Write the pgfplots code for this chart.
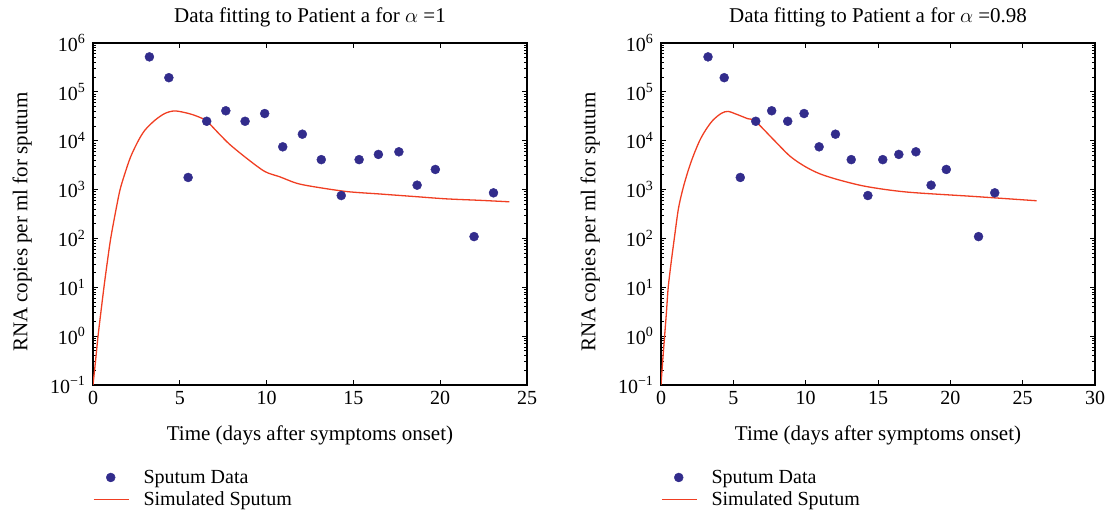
\documentclass[border=0pt]{standalone}
\usepackage{fontspec}
\setmainfont{Liberation Serif}
\usepackage{pgfplots}
\pgfplotsset{compat=1.18}
\definecolor{dotc}{RGB}{50,44,140}
\definecolor{linec}{RGB}{240,62,34}

\pgfplotsset{
  dotlegend/.style={legend image code/.code={\path (0pt,0pt) (35pt,0pt);
      \draw[mark repeat=2, mark phase=2, ##1] plot coordinates {(0pt,0pt) (17pt,0pt) (34pt,0pt)};}},
  linelegend/.style={legend image code/.code={\path (0pt,-4pt) (35pt,4pt); \draw[##1] (0pt,0pt) -- (35pt,0pt);}},
}

\pgfplotstableread{
x y
3.25 520000
4.37 195000
5.48 1770
6.55 25000
7.65 41000
8.76 25000
9.89 36000
10.93 7500
12.06 13600
13.15 4100
14.30 755
15.33 4100
16.44 5240
17.62 5930
18.67 1230
19.72 2580
21.95 109
23.07 857
}\sputum

\pgfplotstableread{
x y
0 0.1
0.15 0.32
0.29 1
0.45 3
0.63 10
0.82 32
1.02 100
1.30 350
1.56 1000
1.85 2200
2.17 4700
2.61 10000
3.00 16600
3.57 26300
4.15 36300
4.72 40700
5.48 36300
6.00 31600
6.55 25100
7.32 13200
7.89 8320
8.85 4370
9.90 2340
10.77 1820
11.72 1350
12.68 1150
14.60 912
16.50 813
18.43 724
20.34 646
22.26 603
23.98 562
}\simA

\pgfplotstableread{
x y
0 0.1
0.12 0.32
0.25 1
0.38 3.2
0.50 10
0.70 32
0.92 100
1.20 400
1.50 1000
1.85 2300
2.21 4700
2.67 10000
3.09 16600
3.59 26300
4.17 36300
4.63 39800
5.23 34700
6.00 28200
6.52 25100
7.78 10500
8.93 4790
9.97 2950
11.00 2090
12.39 1550
14.23 1150
16.99 890
21.60 724
25.97 590
}\simB

\begin{document}
\begin{tikzpicture}
\path[use as bounding box] (0pt,0pt) rectangle (1112pt,514pt);
\begin{axis}[at={(93pt,129pt)}, anchor=south west,
    scale only axis, width=434pt, height=342pt,
    ymode=log, ymin=0.1, ymax=1000000, xmin=0, xmax=25,
    xtick={0,5,10,15,20,25},
    axis line style={line width=1.3pt, black},
    every tick/.style={black, line width=0.8pt},
    major tick length=5pt, minor tick length=3pt,
    ytick={0.1,1,10,100,1000,10000,100000,1000000},
    yticklabels={10\textsuperscript{−1},10\textsuperscript{0},10\textsuperscript{1},10\textsuperscript{2},10\textsuperscript{3},10\textsuperscript{4},10\textsuperscript{5},10\textsuperscript{6}},
    tick label style={font=\fontsize{20}{22}\selectfont},
    xticklabel style={yshift=-3pt},
    yticklabel style={xshift=-4pt},
    label style={font=\fontsize{21}{24}\selectfont},
    title style={font=\fontsize{21}{24}\selectfont, at={(axis description cs:0.5,1.058)}, anchor=center},
    xlabel style={at={(axis description cs:0.5,-0.146)}, anchor=center},
    ylabel style={at={(axis description cs:-0.163,0.476)}, anchor=center},
    xlabel={Time (days after symptoms onset)},
    ylabel={RNA copies per ml for sputum},
    title={Data fitting to Patient a for $\alpha$ =1},
    legend style={at={(axis description cs:0,-0.243)}, anchor=north west,
      draw=none, fill=none, inner sep=0pt, outer sep=0pt,
      font=\fontsize{20}{22}\selectfont, column sep=12pt, row sep=3pt},
    legend cell align=left,
    /pgf/number format/assume math mode=true]
\addplot[only marks, mark=*, mark size=4.5pt, color=dotc, mark options={fill=dotc, draw=dotc}, dotlegend]
    table[x=x,y=y] {\sputum};
\addlegendentry{Sputum Data}
\addplot[forget plot, no marks, smooth, color=linec, line width=1.3pt]
    table[x=x,y=y] {\simA};
\addlegendimage{no marks, draw=linec, line width=1.5pt, linelegend}
\addlegendentry{Simulated Sputum}
\end{axis}
\begin{axis}[at={(661pt,129pt)}, anchor=south west,
    scale only axis, width=434pt, height=342pt,
    ymode=log, ymin=0.1, ymax=1000000, xmin=0, xmax=30,
    xtick={0,5,10,15,20,25,30},
    axis line style={line width=1.3pt, black},
    every tick/.style={black, line width=0.8pt},
    major tick length=5pt, minor tick length=3pt,
    ytick={0.1,1,10,100,1000,10000,100000,1000000},
    yticklabels={10\textsuperscript{−1},10\textsuperscript{0},10\textsuperscript{1},10\textsuperscript{2},10\textsuperscript{3},10\textsuperscript{4},10\textsuperscript{5},10\textsuperscript{6}},
    tick label style={font=\fontsize{20}{22}\selectfont},
    xticklabel style={yshift=-3pt},
    yticklabel style={xshift=-4pt},
    label style={font=\fontsize{21}{24}\selectfont},
    title style={font=\fontsize{21}{24}\selectfont, at={(axis description cs:0.5,1.058)}, anchor=center},
    xlabel style={at={(axis description cs:0.5,-0.146)}, anchor=center},
    ylabel style={at={(axis description cs:-0.163,0.476)}, anchor=center},
    xlabel={Time (days after symptoms onset)},
    ylabel={RNA copies per ml for sputum},
    title={Data fitting to Patient a for $\alpha$ =0.98},
    legend style={at={(axis description cs:0,-0.243)}, anchor=north west,
      draw=none, fill=none, inner sep=0pt, outer sep=0pt,
      font=\fontsize{20}{22}\selectfont, column sep=12pt, row sep=3pt},
    legend cell align=left,
    /pgf/number format/assume math mode=true]
\addplot[only marks, mark=*, mark size=4.5pt, color=dotc, mark options={fill=dotc, draw=dotc}, dotlegend]
    table[x=x,y=y] {\sputum};
\addlegendentry{Sputum Data}
\addplot[forget plot, no marks, smooth, color=linec, line width=1.3pt]
    table[x=x,y=y] {\simB};
\addlegendimage{no marks, draw=linec, line width=1.5pt, linelegend}
\addlegendentry{Simulated Sputum}
\end{axis}
\end{tikzpicture}
\end{document}
